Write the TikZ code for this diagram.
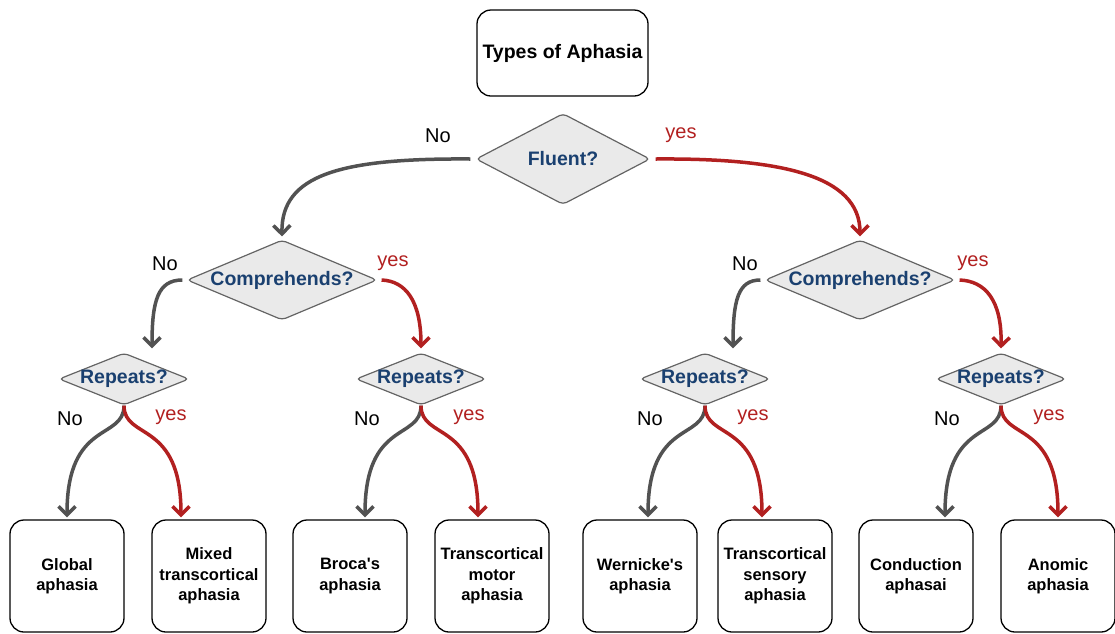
\documentclass[tikz,border=0pt]{standalone}
\usepackage{fontspec}
\setmainfont{Liberation Sans}
\usetikzlibrary{shapes.geometric,arrows.meta}
\definecolor{qblue}{RGB}{26,64,112}
\definecolor{nogray}{RGB}{82,82,82}
\definecolor{yesred}{RGB}{178,32,32}
\definecolor{dfill}{RGB}{234,234,234}
\definecolor{dline}{RGB}{100,100,100}
\begin{document}
\begin{tikzpicture}[x=1pt,y=-1pt,
  box/.style={draw=black,line width=1.3pt,rounded corners=14pt,
    minimum width=114pt,minimum height=112pt,align=center,inner sep=0pt,
    font=\fontsize{16.5}{20.5}\selectfont\bfseries},
  titlebox/.style={draw=black,line width=1.3pt,rounded corners=14pt,
    minimum width=171pt,minimum height=86pt,inner sep=0pt,
    font=\fontsize{19.5}{23}\selectfont\bfseries},
  dec/.style={diamond,draw=dline,fill=dfill,line width=1.2pt,inner sep=0pt,rounded corners=4pt},
  qtext/.style={text=qblue,font=\fontsize{19.5}{23}\selectfont\bfseries},
  nolab/.style={text=black,font=\fontsize{20}{24}\selectfont},
  yeslab/.style={text=yesred,font=\fontsize{20}{24}\selectfont},
  noarr/.style={draw=nogray,line width=3.5pt,-{Straight Barb[length=8.5pt,width=17pt]}},
  yesarr/.style={draw=yesred,line width=3.5pt,-{Straight Barb[length=8.5pt,width=17pt]}}
]
\useasboundingbox (0,0) rectangle (1115,633);

% title and decision nodes
\node[titlebox] (title) at (562.5,53) {Types of Aphasia};
\node[dec,minimum width=174pt,minimum height=91pt,label={[qtext]center:Fluent?}] (fluent) at (563,159) {};
\node[dec,minimum width=190pt,minimum height=80pt,label={[qtext]center:Comprehends?}] (c1) at (282,280) {};
\node[dec,minimum width=190pt,minimum height=80pt,label={[qtext]center:Comprehends?}] (c2) at (860,280) {};
\node[dec,minimum width=130pt,minimum height=52pt,label={[qtext]center:Repeats?}] (r1) at (124,379) {};
\node[dec,minimum width=130pt,minimum height=52pt,label={[qtext]center:Repeats?}] (r2) at (421,379) {};
\node[dec,minimum width=130pt,minimum height=52pt,label={[qtext]center:Repeats?}] (r3) at (705,379) {};
\node[dec,minimum width=130pt,minimum height=52pt,label={[qtext]center:Repeats?}] (r4) at (1001,379) {};

% outcome boxes
\node[box] (global) at (67,576) {Global\\aphasia};
\node[box] (mixed) at (209,576) {Mixed\\transcortical\\aphasia};
\node[box] (broca) at (350,576) {Broca\textquotesingle s\\aphasia};
\node[box] (motor) at (492,576) {Transcortical\\motor\\aphasia};
\node[box] (wernicke) at (640,576) {Wernicke\textquotesingle s\\aphasia};
\node[box] (sensory) at (775,576) {Transcortical\\sensory\\aphasia};
\node[box] (conduction) at (916,576) {Conduction\\aphasai};
\node[box] (anomic) at (1058,576) {Anomic\\aphasia};

% branch labels
\node[nolab] (lf0) at (438,136) {No};
\node[yeslab] (lf1) at (681,135) {yes};
\node[nolab] (lc10) at (165,264) {No};
\node[yeslab] (lc11) at (393,263) {yes};
\node[nolab] (lc20) at (745,264) {No};
\node[yeslab] (lc21) at (973,263) {yes};
\node[nolab] (lr10) at (70,419) {No};
\node[yeslab] (lr11) at (171,417) {yes};
\node[nolab] (lr20) at (367,419) {No};
\node[yeslab] (lr21) at (469,417) {yes};
\node[nolab] (lr30) at (650,419) {No};
\node[yeslab] (lr31) at (753,417) {yes};
\node[nolab] (lr40) at (947,419) {No};
\node[yeslab] (lr41) at (1049,417) {yes};

% first level
\draw[noarr] ([xshift=-5pt]fluent.west) .. controls (340,158) and (281,175) .. ([yshift=3pt]c1.north);
\draw[yesarr] ([xshift=5pt]fluent.east) .. controls (780,158) and (860,175) .. ([yshift=3pt]c2.north);

% second level
\draw[noarr] ([xshift=-4pt]c1.west) .. controls (158,280) and (152,300) .. ([xshift=28pt,yshift=4pt]r1.north);
\draw[yesarr] ([xshift=4pt]c1.east) .. controls (405,281) and (421,300) .. ([yshift=4pt]r2.north);
\draw[noarr] ([xshift=-4pt]c2.west) .. controls (738,280) and (733,300) .. ([xshift=28pt,yshift=4pt]r3.north);
\draw[yesarr] ([xshift=4pt]c2.east) .. controls (985,281) and (1002,300) .. ([yshift=4pt]r4.north);

% third level
\draw[noarr] (r1.south) .. controls +(0,35) and +(0,-98) .. ([yshift=2pt]global.north);
\draw[yesarr] (r1.south) .. controls +(0,35) and +(0,-98) .. ([xshift=-28pt,yshift=2pt]mixed.north);
\draw[noarr] (r2.south) .. controls +(0,35) and +(0,-98) .. ([xshift=15pt,yshift=2pt]broca.north);
\draw[yesarr] (r2.south) .. controls +(0,35) and +(0,-98) .. ([xshift=-14pt,yshift=2pt]motor.north);
\draw[noarr] (r3.south) .. controls +(0,35) and +(0,-98) .. ([xshift=8pt,yshift=2pt]wernicke.north);
\draw[yesarr] (r3.south) .. controls +(0,35) and +(0,-98) .. ([xshift=-13pt,yshift=2pt]sensory.north);
\draw[noarr] (r4.south) .. controls +(0,35) and +(0,-98) .. ([xshift=29pt,yshift=2pt]conduction.north);
\draw[yesarr] (r4.south) .. controls +(0,35) and +(0,-98) .. ([yshift=2pt]anomic.north);
\end{tikzpicture}
\end{document}
